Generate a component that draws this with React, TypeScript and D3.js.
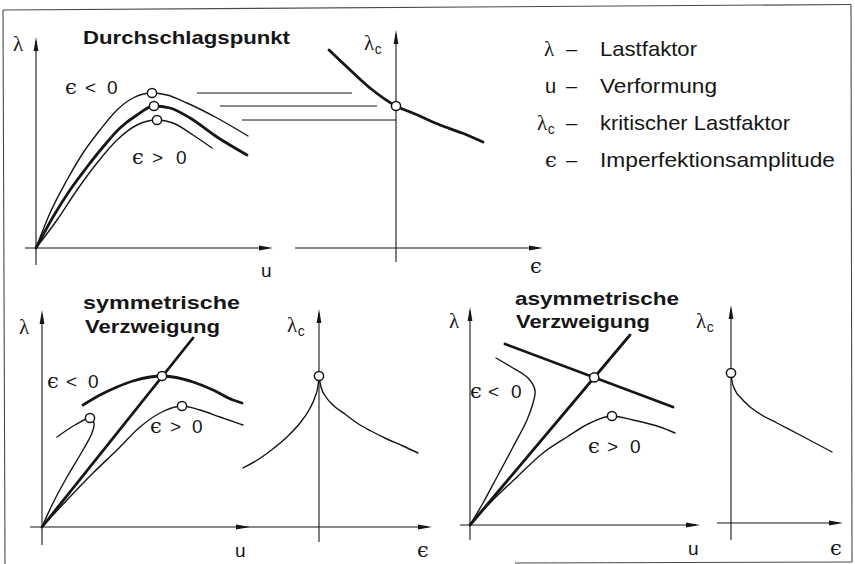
import React from "react";
import * as d3 from "d3";

type P = [number, number];

// ---------- Durchschlagspunkt: load factor λ over deformation u ----------
const snapNeg: P[] = [[0, 0], [0.14, 0.35], [0.31, 0.68], [0.47, 0.95], [0.64, 1.18], [0.81, 1.38], [0.97, 1.5], [1.16, 1.55], [1.31, 1.53], [1.51, 1.45], [1.81, 1.3], [2.12, 1.12]];
const snapPerfect: P[] = [[0, 0], [0.17, 0.31], [0.34, 0.58], [0.51, 0.81], [0.67, 1.01], [0.84, 1.2], [1.01, 1.33], [1.18, 1.42], [1.34, 1.4], [1.54, 1.3], [1.81, 1.11], [2.11, 0.93]];
const snapPos: P[] = [[0, 0], [0.21, 0.28], [0.41, 0.58], [0.61, 0.85], [0.81, 1.08], [1.01, 1.23], [1.21, 1.28], [1.37, 1.25], [1.57, 1.13], [1.76, 1.0]];
// critical load factor λc over imperfection ε
const snapCritical: P[] = [[-0.67, 1.98], [-0.49, 1.81], [-0.26, 1.6], [0, 1.42], [0.19, 1.34], [0.44, 1.23], [0.66, 1.15], [0.87, 1.06]];
// guide lines from the limit points towards the λc axis: [u from, u to]
const snapGuideSpans: P[] = [[1.61, 3.16], [1.84, 3.41], [2.06, 3.6]];

// ---------- symmetrische Verzweigung ----------
const symPrimary: P[] = [[0, 0], [1.51, 1.89]];
const symPost: P[] = [[0.41, 1.22], [0.58, 1.32], [0.75, 1.4], [0.91, 1.46], [1.08, 1.5], [1.2, 1.51], [1.31, 1.5], [1.51, 1.45], [1.71, 1.37], [1.91, 1.27], [2.0, 1.24]];
const symNeg: P[] = [[0.15, 0.9], [0.33, 1.02], [0.48, 1.09], [0.52, 1.04], [0.5, 0.94], [0.41, 0.77], [0.25, 0.5], [0.11, 0.24], [0, 0]];
const symPos: P[] = [[0, 0], [0.25, 0.27], [0.51, 0.54], [0.75, 0.77], [0.98, 1.0], [1.18, 1.14], [1.4, 1.21], [1.58, 1.17], [1.78, 1.1], [2.01, 1.02]];
const symCritNeg: P[] = [[-0.76, 0.59], [-0.6, 0.68], [-0.45, 0.79], [-0.31, 0.91], [-0.19, 1.04], [-0.1, 1.17], [-0.04, 1.3], [-0.01, 1.41], [0, 1.51]];
const symCritPos: P[] = [[0, 1.51], [0.02, 1.4], [0.07, 1.3], [0.15, 1.21], [0.26, 1.13], [0.38, 1.04], [0.52, 0.96], [0.68, 0.88], [0.84, 0.81], [0.99, 0.74]];

// ---------- asymmetrische Verzweigung ----------
const asymPrimary: P[] = [[0, 0], [1.6, 1.9]];
const asymPost: P[] = [[0.35, 1.81], [2.03, 1.18]];
const asymNeg: P[] = [[0.26, 1.67], [0.43, 1.57], [0.58, 1.47], [0.65, 1.35], [0.63, 1.22], [0.57, 1.05], [0.43, 0.78], [0.27, 0.48], [0.13, 0.22], [0, 0]];
const asymPos: P[] = [[0, 0], [0.2, 0.22], [0.47, 0.48], [0.73, 0.72], [0.97, 0.88], [1.2, 1.02], [1.42, 1.09], [1.63, 1.05], [1.9, 0.98], [2.05, 0.92]];
const asymCrit: P[] = [[0, 1.5], [0.01, 1.42], [0.04, 1.33], [0.1, 1.25], [0.18, 1.17], [0.29, 1.09], [0.46, 1.0], [0.69, 0.88], [1.01, 0.71]];

// legend entries
const legendSymbols = ["λ", "u", "λc", "ϵ"];
const legendTexts = ["Lastfaktor", "Verformung", "kritischer Lastfaktor", "Imperfektionsamplitude"];

const SANS = "'Liberation Sans', Arial, Helvetica, sans-serif";
const LAMBDA_FONT = "'Liberation Serif', 'DejaVu Serif', serif";
const EPS_FONT = "'DejaVu Serif', 'DejaVu Sans', serif";
const INK = "#161616";
const THIN = 1.4;
const THICK = 2.8;

type Panel = { ox: number; oy: number; unit: number; v: P; h: P };

const panels: Record<string, Panel> = {
  snap: { ox: 36, oy: 248, unit: 100, v: [-0.17, 2.11], h: [-0.11, 2.37] },
  snapCrit: { ox: 396, oy: 248, unit: 100, v: [-0.14, 2.18], h: [-1.01, 1.47] },
  sym: { ox: 42, oy: 527, unit: 100, v: [-0.18, 2.17], h: [-0.12, 2.08] },
  symCrit: { ox: 319, oy: 527, unit: 100, v: [-0.15, 2.18], h: [-0.76, 1.13] },
  asym: { ox: 470, oy: 525, unit: 100, v: [-0.15, 2.18], h: [-0.1, 2.3] },
  asymCrit: { ox: 731, oy: 523, unit: 100, v: [-0.17, 2.18], h: [-0.14, 1.12] },
};

function scalesFor(p: Panel) {
  const x = d3.scaleLinear().domain([0, 1]).range([p.ox, p.ox + p.unit]);
  const y = d3.scaleLinear().domain([0, 1]).range([p.oy, p.oy - p.unit]);
  return { x, y };
}

type Shape = "smooth" | "loop" | "straight";

function Curve({ p, data, w, shape = "smooth" }: { p: Panel; data: P[]; w: number; shape?: Shape }) {
  const { x, y } = scalesFor(p);
  const curve =
    shape === "straight" ? d3.curveLinear : shape === "loop" ? d3.curveCatmullRom.alpha(0.5) : d3.curveMonotoneX;
  const gen = d3
    .line<P>()
    .x((d) => x(d[0]))
    .y((d) => y(d[1]))
    .curve(curve);
  return <path d={gen(data) ?? ""} fill="none" stroke={INK} strokeWidth={w} strokeLinecap="round" strokeLinejoin="round" />;
}

function Marker({ p, pt }: { p: Panel; pt: P }) {
  const { x, y } = scalesFor(p);
  return <circle cx={x(pt[0])} cy={y(pt[1])} r={4.6} fill="#fff" stroke={INK} strokeWidth={1.5} />;
}

function Axes({ p }: { p: Panel }) {
  const { x, y } = scalesFor(p);
  const x0 = x(0);
  const y0 = y(0);
  const top = y(p.v[1]);
  const right = x(p.h[1]);
  return (
    <g>
      <line x1={x0} x2={x0} y1={y(p.v[0])} y2={top + 4} stroke={INK} strokeWidth={1.1} />
      <line x1={x(p.h[0])} x2={right - 4} y1={y0} y2={y0} stroke={INK} strokeWidth={1.1} />
      <path d={`M${x0},${top} L${x0 - 2.4},${top + 14} L${x0 + 2.4},${top + 14} Z`} fill={INK} />
      <path d={`M${right},${y0} L${right - 14},${y0 - 2.4} L${right - 14},${y0 + 2.4} Z`} fill={INK} />
    </g>
  );
}

function peak(data: P[]): P {
  return d3.greatest(data, (d) => d[1]) as P;
}

function atZero(data: P[]): P {
  return data.find((d) => d[0] === 0) as P;
}

function intersect(a: P[], b: P[]): P {
  const [[x1, y1], [x2, y2]] = a;
  const [[x3, y3], [x4, y4]] = b;
  const den = (x1 - x2) * (y3 - y4) - (y1 - y2) * (x3 - x4);
  const t = ((x1 - x3) * (y3 - y4) - (y1 - y3) * (x3 - x4)) / den;
  return [x1 + t * (x2 - x1), y1 + t * (y2 - y1)];
}

function Lam({ x, y, sub, size = 21 }: { x: number; y: number; sub?: boolean; size?: number }) {
  return (
    <text x={x} y={y} fontFamily={LAMBDA_FONT} fontSize={size} fill={INK}>
      λ
      {sub && (
        <tspan fontFamily={SANS} fontSize={size * 0.66} dy={4} dx={0.5}>
          c
        </tspan>
      )}
    </text>
  );
}

function Eps({ xs, y, rel }: { xs: number[]; y: number; rel?: string }) {
  return (
    <text y={y} fontSize={19} fontFamily={SANS} fill={INK}>
      <tspan x={xs[0]} fontFamily={EPS_FONT} fontSize={21}>
        ϵ
      </tspan>
      {rel && (
        <>
          <tspan x={xs[1]}>{rel}</tspan>
          <tspan x={xs[2]}>0</tspan>
        </>
      )}
    </text>
  );
}

function Title({ x, y, len, children }: { x: number; y: number; len: number; children: string }) {
  return (
    <text x={x} y={y} fontFamily={SANS} fontWeight="bold" fontSize={18.5} fill={INK} textLength={len} lengthAdjust="spacingAndGlyphs">
      {children}
    </text>
  );
}

export default function App() {
  const ps = panels;
  const s1 = scalesFor(ps.snap);
  const guideLevels = [peak(snapNeg)[1], peak(snapPerfect)[1], peak(snapPos)[1]];
  const legendY = d3.range(legendSymbols.length).map((i) => 56 + i * 37);
  const legendLens = [97, 117, 190, 235];

  return (
    <svg width={855} height={564} viewBox="0 0 855 564" style={{ position: "absolute", left: 0, top: 0, background: "#fff" }}>
      <rect width={855} height={564} fill="#fff" />
      {/* frame */}
      <g stroke="#4a4a4a" strokeWidth={1.1} fill="none">
        <line x1={3} y1={10} x2={851} y2={4.5} />
        <line x1={3} y1={10} x2={5} y2={564} />
        <line x1={851} y1={4.5} x2={852} y2={562} />
        <line x1={515} y1={563} x2={852} y2={562} />
      </g>

      {/* Durchschlagspunkt */}
      <Axes p={ps.snap} />
      <Curve p={ps.snap} data={snapNeg} w={THIN} />
      <Curve p={ps.snap} data={snapPerfect} w={THICK} />
      <Curve p={ps.snap} data={snapPos} w={THIN} />
      {snapGuideSpans.map((s, i) => (
        <line key={i} x1={s1.x(s[0])} x2={s1.x(s[1])} y1={s1.y(guideLevels[i])} y2={s1.y(guideLevels[i])} stroke={INK} strokeWidth={1} />
      ))}
      <Marker p={ps.snap} pt={peak(snapNeg)} />
      <Marker p={ps.snap} pt={peak(snapPerfect)} />
      <Marker p={ps.snap} pt={peak(snapPos)} />
      <Lam x={13} y={51} />
      <text x={261} y={277} fontFamily={SANS} fontSize={19} fill={INK}>u</text>
      <Title x={83} y={44} len={207}>Durchschlagspunkt</Title>
      <Eps xs={[65, 85, 107]} y={94} rel="<" />
      <Eps xs={[132, 152, 176]} y={164} rel=">" />

      <Axes p={ps.snapCrit} />
      <Curve p={ps.snapCrit} data={snapCritical} w={THICK} />
      <Marker p={ps.snapCrit} pt={atZero(snapCritical)} />
      <Lam x={364} y={50} sub />
      <Eps xs={[530]} y={273} />

      {/* legend */}
      {legendSymbols.map((sym, i) => (
        <g key={sym}>
          {sym === "λc" ? (
            <Lam x={537} y={legendY[i]} sub size={21} />
          ) : sym === "u" ? (
            <text x={545} y={legendY[i]} fontFamily={SANS} fontSize={20} fill={INK}>u</text>
          ) : sym === "λ" ? (
            <Lam x={544} y={legendY[i]} size={21} />
          ) : (
            <text x={545} y={legendY[i]} fontFamily={EPS_FONT} fontSize={21} fill={INK}>{sym}</text>
          )}
          <text x={566} y={legendY[i]} fontFamily={SANS} fontSize={20} fill={INK}>–</text>
          <text x={600} y={legendY[i]} fontFamily={SANS} fontSize={21} fill={INK} textLength={legendLens[i]} lengthAdjust="spacingAndGlyphs">
            {legendTexts[i]}
          </text>
        </g>
      ))}

      {/* symmetrische Verzweigung */}
      <Axes p={ps.sym} />
      <Curve p={ps.sym} data={symPrimary} w={THICK} shape="straight" />
      <Curve p={ps.sym} data={symPost} w={THICK} />
      <Curve p={ps.sym} data={symNeg} w={THIN} shape="loop" />
      <Curve p={ps.sym} data={symPos} w={THIN} />
      <Marker p={ps.sym} pt={peak(symPost)} />
      <Marker p={ps.sym} pt={peak(symNeg)} />
      <Marker p={ps.sym} pt={peak(symPos)} />
      <Lam x={19} y={334} />
      <text x={235} y={557} fontFamily={SANS} fontSize={19} fill={INK}>u</text>
      <Title x={83} y={309} len={157}>symmetrische</Title>
      <Title x={85} y={333} len={135}>Verzweigung</Title>
      <Eps xs={[47, 66, 88]} y={388} rel="<" />
      <Eps xs={[150, 170, 192]} y={433} rel=">" />

      <Axes p={ps.symCrit} />
      <Curve p={ps.symCrit} data={symCritNeg} w={THIN} />
      <Curve p={ps.symCrit} data={symCritPos} w={THIN} />
      <Marker p={ps.symCrit} pt={atZero(symCritNeg)} />
      <Lam x={287} y={332} sub />
      <Eps xs={[417]} y={557} />

      {/* asymmetrische Verzweigung */}
      <Axes p={ps.asym} />
      <Curve p={ps.asym} data={asymPrimary} w={THICK} shape="straight" />
      <Curve p={ps.asym} data={asymPost} w={THICK} shape="straight" />
      <Curve p={ps.asym} data={asymNeg} w={THIN} shape="loop" />
      <Curve p={ps.asym} data={asymPos} w={THIN} />
      <Marker p={ps.asym} pt={intersect(asymPrimary, asymPost)} />
      <Marker p={ps.asym} pt={peak(asymPos)} />
      <Lam x={449} y={328} />
      <text x={688} y={555} fontFamily={SANS} fontSize={19} fill={INK}>u</text>
      <Title x={515} y={305} len={164}>asymmetrische</Title>
      <Title x={516} y={328} len={134}>Verzweigung</Title>
      <Eps xs={[470, 488, 511]} y={398} rel="<" />
      <Eps xs={[588, 607, 630]} y={453} rel=">" />

      <Axes p={ps.asymCrit} />
      <Curve p={ps.asymCrit} data={asymCrit} w={THIN} />
      <Marker p={ps.asymCrit} pt={atZero(asymCrit)} />
      <Lam x={696} y={328} sub />
      <Eps xs={[830]} y={555} />
    </svg>
  );
}
